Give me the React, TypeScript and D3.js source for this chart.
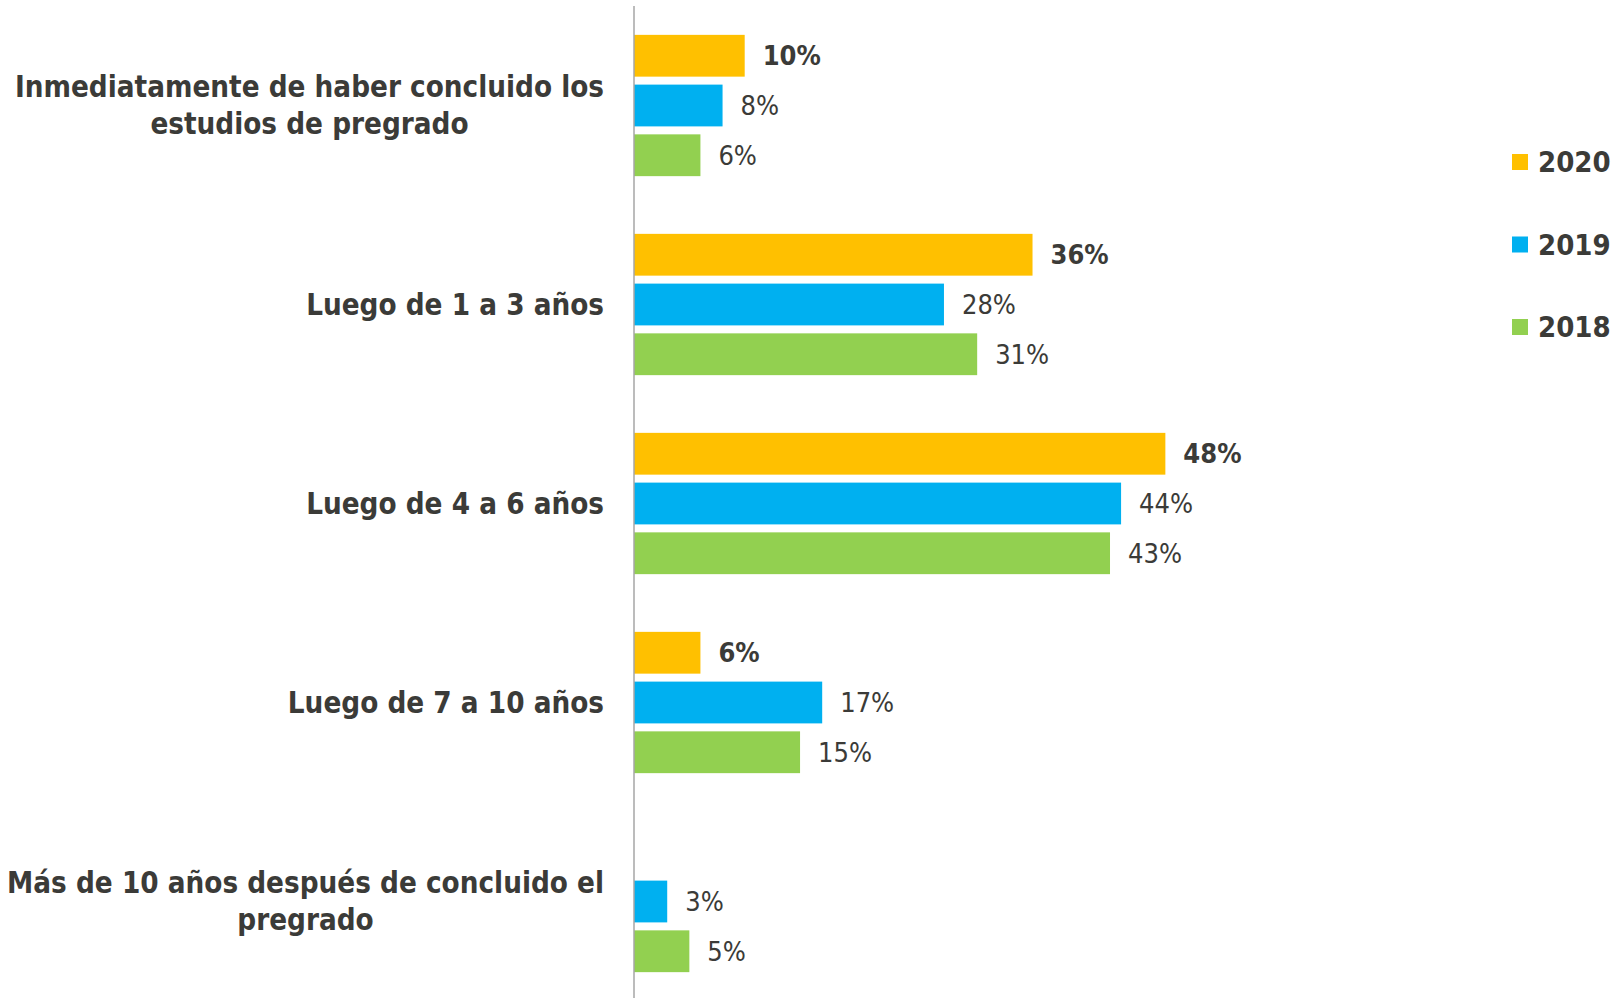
import React from "react";
import * as d3 from "d3";

const categories = [
  "Inmediatamente de haber concluido los\nestudios de pregrado",
  "Luego de 1 a 3 años",
  "Luego de 4 a 6 años",
  "Luego de 7 a 10 años",
  "Más de 10 años después de concluido el\npregrado",
];
const seriesNames = ["2020", "2019", "2018"];
const values2020: (number | null)[] = [10, 36, 48, 6, null];
const values2019: (number | null)[] = [8, 28, 44, 17, 3];
const values2018: (number | null)[] = [6, 31, 43, 15, 5];
const seriesColors = ["#FFC000", "#00B0F0", "#92D050"];

const W = 1619;
const H = 998;
const FONT = "'DejaVu Sans Condensed', 'DejaVu Sans', sans-serif";
const TEXT = "#3b3b38";

export default function App() {
  const seriesValues = [values2020, values2019, values2018];
  const x = d3.scaleLinear().domain([0, 50]).range([634, 634 + 553.5]);
  const y = d3
    .scaleBand<string>()
    .domain(categories)
    .range([6, 1001])
    .paddingInner(0.29)
    .paddingOuter(0.145);
  const ys = d3
    .scaleBand<string>()
    .domain(seriesNames)
    .range([0, y.bandwidth()])
    .paddingInner(0.16)
    .paddingOuter(0);

  return (
    <svg
      width={W}
      height={H}
      style={{ position: "absolute", left: 0, top: 0, background: "#fff" }}
      fontFamily={FONT}
    >
      <rect x={0} y={0} width={W} height={H} fill="#fff" />
      {categories.map((c, ci) => {
        const y0 = y(c)!;
        const lines = c.split("\n");
        const cy = y0 + y.bandwidth() / 2;
        const lh = 37;
        return (
          <g key={c}>
            {seriesNames.map((s, si) => {
              const v = seriesValues[si][ci];
              if (v == null) return null;
              const by = y0 + ys(s)!;
              return (
                <g key={s}>
                  <rect
                    x={x(0)}
                    y={by}
                    width={x(v) - x(0)}
                    height={ys.bandwidth()}
                    fill={seriesColors[si]}
                  />
                  <text
                    x={x(v) + 18}
                    y={by + ys.bandwidth() / 2}
                    dy="0.35em"
                    fontSize={27}
                    fontWeight={si === 0 ? "bold" : "normal"}
                    fill={TEXT}
                  >
                    {v}%
                  </text>
                </g>
              );
            })}
            {lines.length === 1 ? (
              <text
                x={604}
                y={cy}
                dy="0.35em"
                textAnchor="end"
                fontSize={29.3}
                fontWeight="bold"
                fill={TEXT}
              >
                {lines[0]}
              </text>
            ) : (
              <CenteredLabel lines={lines} right={604} cy={cy} lh={lh} />
            )}
          </g>
        );
      })}
      <line x1={634} x2={634} y1={6} y2={H} stroke="#A6A6A6" strokeWidth={1.5} />
      {seriesNames.map((s, si) => {
        const ly = 162 + si * 82.5;
        return (
          <g key={s}>
            <rect x={1512} y={ly - 8} width={16} height={16} fill={seriesColors[si]} />
            <text x={1538} y={ly} dy="0.35em" fontSize={29} fontWeight="bold" fill={TEXT}>
              {s}
            </text>
          </g>
        );
      })}
    </svg>
  );
}

function CenteredLabel({
  lines,
  right,
  cy,
  lh,
}: {
  lines: string[];
  right: number;
  cy: number;
  lh: number;
}) {
  const ref = React.useRef<SVGGElement>(null);
  const [w, setW] = React.useState(0);
  React.useLayoutEffect(() => {
    if (!ref.current) return;
    const texts = Array.from(ref.current.querySelectorAll("text")) as SVGTextElement[];
    const mw = d3.max(texts, (t) => t.getComputedTextLength()) || 0;
    setW(mw);
  }, []);
  const cx = right - w / 2;
  const top = cy - ((lines.length - 1) * lh) / 2;
  return (
    <g ref={ref}>
      {lines.map((l, i) => (
        <text
          key={i}
          x={cx}
          y={top + i * lh}
          dy="0.35em"
          textAnchor="middle"
          fontSize={29.3}
          fontWeight="bold"
          fill={TEXT}
        >
          {l}
        </text>
      ))}
    </g>
  );
}
